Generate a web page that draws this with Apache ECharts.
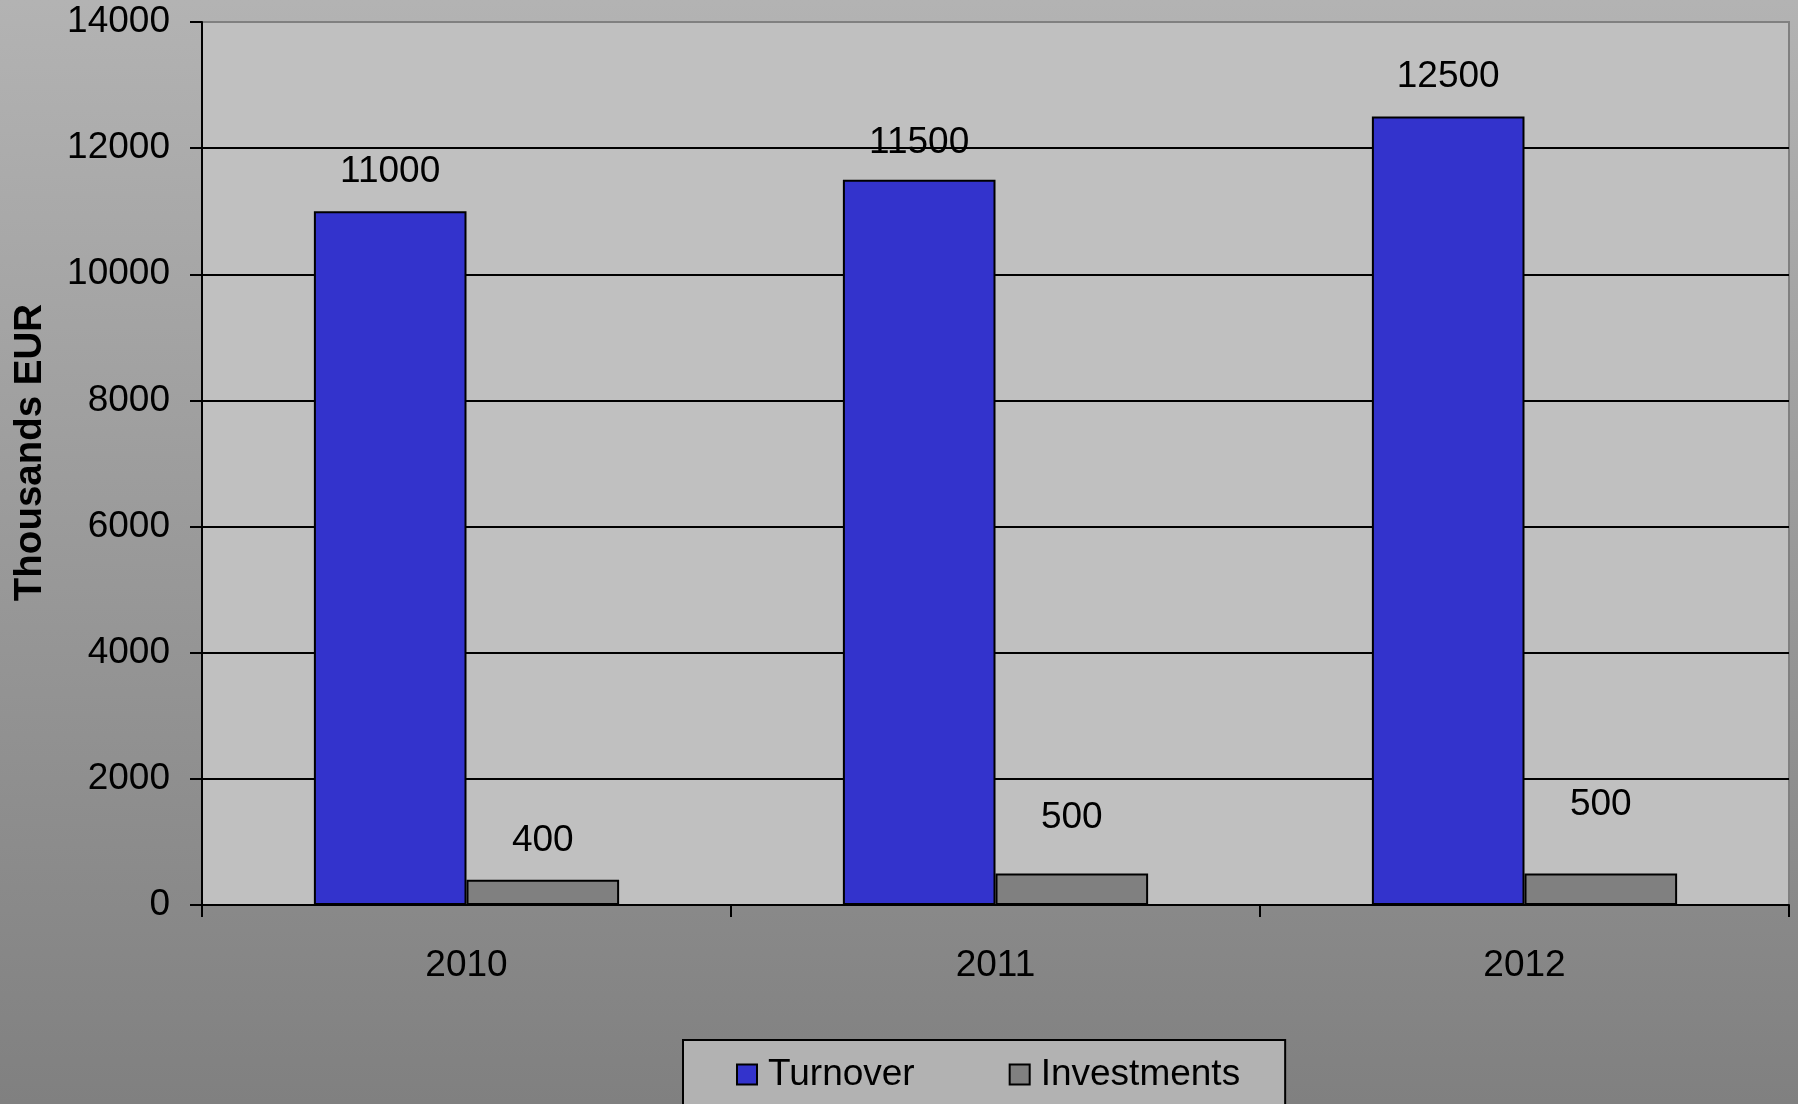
<!DOCTYPE html>
<html>
<head>
<meta charset="utf-8">
<script src="https://cdn.jsdelivr.net/npm/echarts@6/dist/echarts.min.js"></script>
<style>
html,body{margin:0;padding:0;}
#chart{width:1798px;height:1104px;}
</style>
</head>
<body>
<div id="chart"></div>
<script>
const categories = ['2010', '2011', '2012'];
const turnover = [11000, 11500, 12500];
const investments = [400, 500, 500];
const yTicks = [0, 2000, 4000, 6000, 8000, 10000, 12000, 14000];

// label distances (style only, not data)
const turnoverLabelDist = [21, 18, 21];
const investLabelDist = [20, 37, 50];

const FONT = '"Liberation Sans", Arial, sans-serif';
const FS = 37;
const chart = echarts.init(document.getElementById('chart'));

chart.setOption({
  animation: false,
  backgroundColor: {
    type: 'linear', x: 0, y: 0, x2: 0, y2: 1,
    colorStops: [{offset: 0, color: '#b3b3b3'}, {offset: 1, color: '#808080'}]
  },
  grid: {
    left: 202, right: 9, top: 22, bottom: 199,
    show: true, backgroundColor: '#c0c0c0', borderColor: '#808080', borderWidth: 2
  },
  legend: {
    bottom: -49, left: 683,
    backgroundColor: '#b2b2b2', borderColor: '#000', borderWidth: 2,
    padding: [16, 45, 60, 53],
    itemWidth: 20, itemHeight: 20, itemGap: 94,
    textStyle: {fontFamily: FONT, fontSize: FS, color: '#000', padding: [0, 0, 0, 6]},
    data: [{name: 'Turnover', icon: 'rect'}, {name: 'Investments', icon: 'rect'}]
  },
  xAxis: {
    type: 'category', data: categories,
    axisLine: {lineStyle: {color: '#000', width: 2}},
    axisTick: {show: true, length: 12, lineStyle: {color: '#000', width: 2}},
    axisLabel: {fontFamily: FONT, fontSize: FS, color: '#000', margin: 42}
  },
  yAxis: {
    type: 'value', min: yTicks[0], max: yTicks[yTicks.length - 1], interval: yTicks[1] - yTicks[0],
    name: 'Thousands EUR', nameLocation: 'middle', nameGap: 152,
    nameTextStyle: {fontFamily: FONT, fontSize: 38.5, fontWeight: 'bold', color: '#000', padding: [0, 0, 0, 22]},
    axisLine: {show: true, lineStyle: {color: '#000', width: 2}},
    axisTick: {show: true, length: 12, lineStyle: {color: '#000', width: 2}},
    axisLabel: {fontFamily: FONT, fontSize: FS, color: '#000', margin: 32, formatter: v => String(v)},
    splitLine: {show: true, lineStyle: {color: ['#000', '#000', '#000', '#000', '#000', '#000', '#000', '#808080'], width: 2}}
  },
  series: [
    {
      name: 'Turnover', type: 'bar', barGap: '0%', barCategoryGap: '42.3%',
      itemStyle: {color: '#3333cc', borderColor: '#000', borderWidth: 2},
      label: {show: true, position: 'top', fontFamily: FONT, fontSize: FS, color: '#000'},
      data: turnover.map((v, i) => ({value: v, label: {distance: turnoverLabelDist[i]}}))
    },
    {
      name: 'Investments', type: 'bar',
      itemStyle: {color: '#808080', borderColor: '#000', borderWidth: 2},
      label: {show: true, position: 'top', fontFamily: FONT, fontSize: FS, color: '#000'},
      data: investments.map((v, i) => ({value: v, label: {distance: investLabelDist[i]}}))
    }
  ]
});
</script>
</body>
</html>
